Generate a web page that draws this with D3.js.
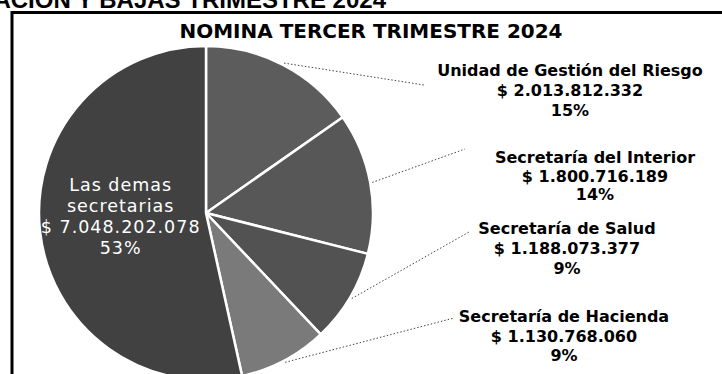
<!DOCTYPE html>
<html>
<head>
<meta charset="utf-8">
<script src="https://cdn.jsdelivr.net/npm/d3@7"></script>
<style>
  html, body { margin: 0; padding: 0; background: #fff; }
  svg { display: block; }
</style>
</head>
<body>
<svg id="chart" width="722" height="374"></svg>
<script>
// Nómina del tercer trimestre 2024 por dependencia
const categories = [
  "Unidad de Gestión del Riesgo",
  "Secretaría del Interior",
  "Secretaría de Salud",
  "Secretaría de Hacienda",
  "Las demas secretarias"
];
const values = [2013812332, 1800716189, 1188073377, 1130768060, 7048202078];
const valueLabels = ["$ 2.013.812.332", "$ 1.800.716.189", "$ 1.188.073.377", "$ 1.130.768.060", "$ 7.048.202.078"];
const percentLabels = ["15%", "14%", "9%", "9%", "53%"];
const sliceColors = ["#5c5c5c", "#575757", "#525252", "#7a7a7a", "#414141"];

const svg = d3.select("#chart");
const W = 722, H = 374;

// page heading running above the chart frame
svg.append("text")
  .attr("x", 386).attr("y", 8)
  .attr("text-anchor", "end")
  .attr("font-family", "'Liberation Sans', Arial, sans-serif")
  .attr("font-weight", "bold")
  .attr("font-size", 24)
  .attr("fill", "#000")
  .text("ROTACIÓN Y BAJAS TRIMESTRE 2024");

// chart frame
svg.append("rect")
  .attr("x", 12).attr("y", 12.5)
  .attr("width", W + 20).attr("height", H + 20)
  .attr("fill", "none")
  .attr("stroke", "#000")
  .attr("stroke-width", 3);

// title
svg.append("text")
  .attr("x", 371).attr("y", 38)
  .attr("text-anchor", "middle")
  .attr("font-family", "'Liberation Sans Narrow', 'DejaVu Sans Condensed', 'Liberation Sans', sans-serif")
  .attr("font-weight", "bold")
  .attr("font-size", 19)
  .attr("textLength", 383)
  .attr("lengthAdjust", "spacingAndGlyphs")
  .attr("fill", "#000")
  .text("NOMINA TERCER TRIMESTRE 2024");

const cx = 206, cy = 213, R = 167;

const pie = d3.pie().sort(null).value(d => d.value);
const data = categories.map((c, i) => ({
  name: c, value: values[i], money: valueLabels[i], pct: percentLabels[i], color: sliceColors[i]
}));
const arcs = pie(data);

const arc = d3.arc().innerRadius(0).outerRadius(R);
const g = svg.append("g").attr("transform", `translate(${cx},${cy})`);

g.selectAll("path.slice")
  .data(arcs)
  .join("path")
  .attr("class", "slice")
  .attr("d", arc)
  .attr("fill", d => d.data.color)
  .attr("stroke", "#fff")
  .attr("stroke-width", 2.5)
  .attr("stroke-linejoin", "round");

// outside labels for the four named dependencies
const outerLabels = [
  { x: 570, y: 76, gap: 20 },
  { x: 595, y: 163, gap: 18.5 },
  { x: 567, y: 234, gap: 20 },
  { x: 564, y: 322, gap: 19.5 }
];
const leaderEnds = [
  [424, 85],
  [465, 149],
  [469, 232],
  [454, 318]
];
const edgeArc = d3.arc().innerRadius(R + 2).outerRadius(R + 2);

arcs.slice(0, 4).forEach((a, i) => {
  const [ex, ey] = edgeArc.centroid(a);
  svg.append("line")
    .attr("x1", cx + ex).attr("y1", cy + ey)
    .attr("x2", leaderEnds[i][0]).attr("y2", leaderEnds[i][1])
    .attr("stroke", "#444")
    .attr("stroke-width", 1)
    .attr("stroke-dasharray", "1.5,2");

  const t = svg.append("text")
    .attr("x", outerLabels[i].x).attr("y", outerLabels[i].y)
    .attr("text-anchor", "middle")
    .attr("font-family", "'DejaVu Sans', Verdana, sans-serif")
    .attr("font-weight", "bold")
    .attr("font-size", 16)
    .attr("fill", "#000");
  [a.data.name, a.data.money, a.data.pct].forEach((line, k) => {
    t.append("tspan")
      .attr("x", outerLabels[i].x)
      .attr("dy", k === 0 ? 0 : outerLabels[i].gap)
      .text(line);
  });
});

// label inside the largest slice
const big = arcs[4];
const inArc = d3.arc().innerRadius(R * 0.52).outerRadius(R * 0.52);
const [ix, iy] = inArc.centroid(big);
const lx = cx + ix + 1;
const inner = svg.append("text")
  .attr("x", lx).attr("y", 191)
  .attr("text-anchor", "middle")
  .attr("font-family", "'DejaVu Sans', Verdana, sans-serif")
  .attr("font-size", 17.5)
  .attr("letter-spacing", 1)
  .attr("fill", "#fff");
["Las demas", "secretarias", big.data.money, big.data.pct].forEach((line, k) => {
  inner.append("tspan")
    .attr("x", lx)
    .attr("dy", k === 0 ? 0 : 21)
    .text(line);
});
</script>
</body>
</html>
